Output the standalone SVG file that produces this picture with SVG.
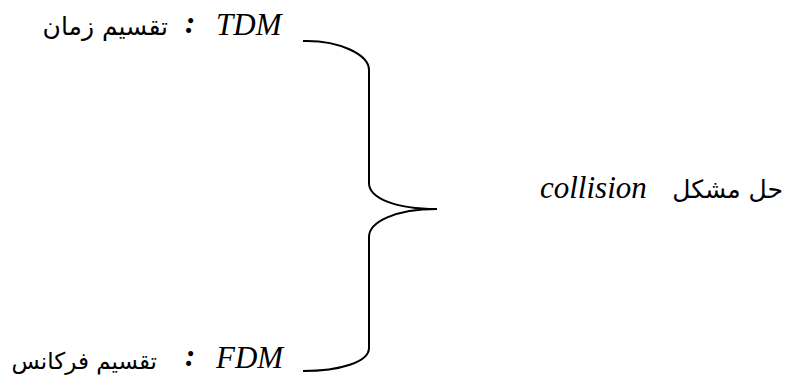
<svg xmlns="http://www.w3.org/2000/svg" width="799" height="387" viewBox="0 0 799 387">
<style>
.lat{font-family:"Liberation Serif","Times New Roman",serif;font-style:italic;font-size:31px;fill:#000}
.ar{font-family:"DejaVu Sans","Noto Sans",sans-serif;font-size:25px;fill:#000}
.col{font-family:"Liberation Serif",serif;font-style:italic;font-weight:bold;font-size:31px;fill:#000}
.brace{fill:none;stroke:#000;stroke-width:2}
</style>
<rect width="799" height="387" fill="#fff"/>
<g id="connectors">
<path class="brace" d="M303,41 C340,40 369,55 369,70 L369,183 C369,198 395,209 437,209 C395,209 369,222 369,237 L369,348 C369,362 340,371 303,371"/>
</g>
<g id="node-tdm">
<text class="ar" x="168" y="35" text-anchor="end">تقسیم زمان</text>
<text class="col" x="185" y="33">:</text>
<text class="lat" x="216" y="35">TDM</text>
</g>
<g id="node-fdm">
<text class="ar" x="157" y="369" text-anchor="end" style="font-size:23px">تقسیم فرکانس</text>
<text class="col" x="185" y="366">:</text>
<text class="lat" x="216" y="368">FDM</text>
</g>
<g id="node-collision">
<text class="lat" x="540" y="198">collision</text>
<text class="ar" x="783" y="198" text-anchor="end">حل مشکل</text>
</g>
</svg>
